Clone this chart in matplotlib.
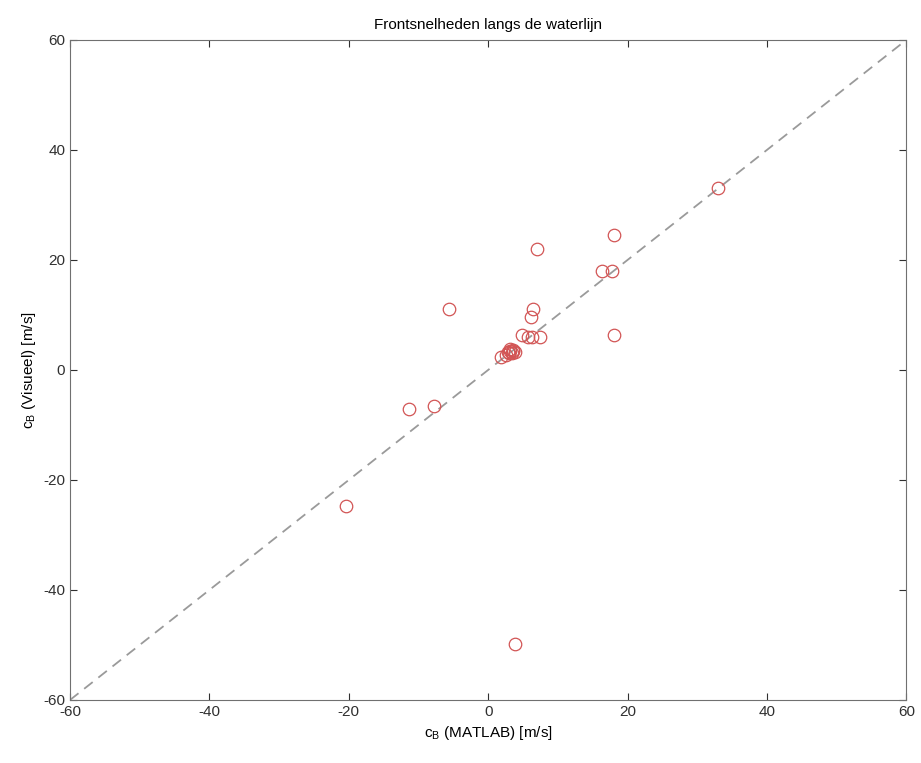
#!/usr/bin/env python3

import matplotlib
matplotlib.use('Agg')
import matplotlib.pyplot as plt
import numpy as np

# front speeds: MATLAB estimate vs visual estimate [m/s]
c_matlab = [33.0, 7.0, 18.0, 16.4, 17.8, 18.0, -5.6, 6.5, 6.2,
            4.8, 5.7, 6.3, 7.5,
            1.8, 2.6, 3.0, 3.2, 3.4, 3.6, 3.8, 3.1, 3.5, 2.9,
            -11.3, -7.7, -20.4, 3.8]
c_visueel = [33.0, 22.0, 24.6, 18.0, 18.0, 6.4, 11.0, 11.0, 9.7,
             6.3, 6.0, 6.0, 6.0,
             2.3, 2.8, 3.0, 3.4, 3.1, 3.5, 3.3, 3.8, 3.7, 3.2,
             -7.1, -6.6, -24.8, -49.8]

ax_lim = [-60, 60]
ticks = [-60, -40, -20, 0, 20, 40, 60]

plt.rcParams['font.family'] = ['Liberation Sans', 'DejaVu Sans']
plt.rcParams['font.size'] = 11
plt.rcParams['axes.unicode_minus'] = False

fig = plt.figure(figsize=(9.21, 7.63), dpi=100)
ax = fig.add_axes([0.076, 0.0826, 0.908, 0.865])

ax.plot(ax_lim, ax_lim, '--', color='#9a9a9a', linewidth=1.3, dashes=(6, 4))
ax.plot(c_matlab, c_visueel, 'o', markerfacecolor='none',
        markeredgecolor='#d25555', markersize=9, markeredgewidth=0.9)

ax.set_xlim(ax_lim)
ax.set_ylim(ax_lim)
ax.set_xticks(ticks)
ax.set_yticks(ticks)
ax.tick_params(direction='in', top=True, right=True, length=5, colors='#303030')
for s in ax.spines.values():
    s.set_color('#707070')

ax.set_title('Frontsnelheden langs de waterlijn', fontsize=11, pad=8)
ax.set_xlabel('c$_\\mathregular{B}$ (MATLAB) [m/s]')
ax.set_ylabel('c$_\\mathregular{B}$ (Visueel) [m/s]')

fig.savefig('out.png', dpi=100)
